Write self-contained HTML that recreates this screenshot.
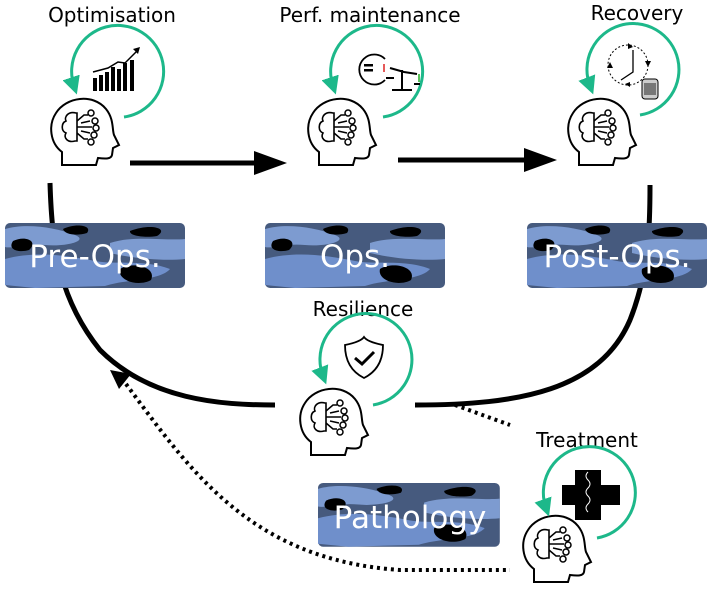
<!DOCTYPE html>
<html><head><meta charset="utf-8"><style>
html,body{margin:0;padding:0;background:#fff;}
svg{display:block;}
text{font-family:"DejaVu Sans","Liberation Sans",sans-serif;}
</style></head><body>
<svg width="715" height="589" viewBox="0 0 715 589" xmlns="http://www.w3.org/2000/svg">
<defs>
<marker id="ga" markerWidth="6" markerHeight="6" refX="3" refY="3" orient="auto" markerUnits="strokeWidth">
<path d="M0,0 L6,3 L0,6 z" fill="#1db88a"/></marker>
<g id="head" fill="none" stroke="#000" stroke-width="2">
<path d="M14,70 L14,57 C2,48 0,30 8,18 C18,2 45,-2 58,14 C66,24 64,34 66,40 L71,50 L65,53 L64,60 C63,64 58,64 50,63 L48,70 Z" fill="#fff"/>
<path d="M28,18 C20,16 16,22 18,26 C13,28 13,36 18,38 C15,43 20,48 27,46 L29,46 L29,18 Z" stroke-width="1.6"/>
<path d="M29,32 L44,32 M29,26 L36,20 L40,20 M29,38 L36,44 L40,44 M33,28 L42,26 M33,36 L42,38" stroke-width="1.5"/>
<circle cx="43" cy="18" r="3" stroke-width="1.5"/><circle cx="47" cy="26" r="3" stroke-width="1.5"/><circle cx="48" cy="33" r="3" stroke-width="1.5"/><circle cx="46" cy="40" r="3" stroke-width="1.5"/><circle cx="43" cy="47" r="3" stroke-width="1.5"/>
</g>
<g id="camo">
<rect width="180" height="65" rx="5" fill="#465a7e"/>
<path d="M0,6 C20,0 50,4 70,12 C85,18 60,24 40,22 C20,20 8,26 0,24Z" fill="#7d9bd0"/>
<path d="M0,36 C30,28 60,32 90,38 C110,42 140,36 165,46 C155,58 120,56 100,63 L30,65 L0,62Z" fill="#6f8fcb"/>
<path d="M105,20 C130,12 160,18 180,16 L180,36 C160,38 130,36 105,30Z" fill="#7d9bd0"/>
<path d="M8,18 C20,12 34,18 24,27 C14,30 2,27 8,18Z" fill="#000"/>
<path d="M58,6 C70,0 88,2 82,10 C72,13 60,12 58,6Z" fill="#000"/>
<path d="M125,8 C145,0 165,5 152,13 C140,15 124,13 125,8Z" fill="#000"/>
<path d="M115,46 C128,38 152,44 146,57 C134,64 112,58 115,46Z" fill="#000"/>
</g>
</defs>

<text x="112" y="22" font-size="20" text-anchor="middle">Optimisation</text>
<text x="370" y="22" font-size="20" text-anchor="middle">Perf. maintenance</text>
<text x="637" y="20" font-size="20" text-anchor="middle">Recovery</text>
<text x="363" y="316" font-size="20" text-anchor="middle">Resilience</text>
<text x="587" y="447" font-size="20" text-anchor="middle">Treatment</text>

<path d="M50,183 C52,250 60,300 100,350 C150,400 220,405 275,405" fill="none" stroke="#000" stroke-width="5"/>
<path d="M110,370 L131,374 L119,389 Z" fill="#000"/>
<path d="M415,405 C520,405 600,390 630,320 C650,270 650,220 650,185" fill="none" stroke="#000" stroke-width="5"/>
<path d="M455,405 L510,425" fill="none" stroke="#000" stroke-width="4" stroke-dasharray="3,4"/>
<path d="M126,384 C190,470 250,560 400,570 L510,570" fill="none" stroke="#000" stroke-width="4" stroke-dasharray="3,4"/>

<line x1="130" y1="163" x2="262" y2="163" stroke="#000" stroke-width="5"/>
<path d="M254,151 L287,163 L254,175 Z" fill="#000"/>
<line x1="398" y1="160" x2="532" y2="160" stroke="#000" stroke-width="5"/>
<path d="M524,148 L557,160 L524,172 Z" fill="#000"/>

<use href="#camo" x="5" y="223"/>
<use href="#camo" x="265" y="223"/>
<use href="#camo" x="527" y="223"/>
<g transform="translate(318,483) scale(1.01,0.98)"><use href="#camo"/></g>
<text x="95" y="267" font-size="31" fill="#fff" text-anchor="middle">Pre-Ops.</text>
<text x="355" y="267" font-size="31" fill="#fff" text-anchor="middle">Ops.</text>
<text x="617" y="267" font-size="31" fill="#fff" text-anchor="middle">Post-Ops.</text>
<text x="410" y="528" font-size="31" fill="#fff" text-anchor="middle">Pathology</text>

<use href="#head" x="48" y="95"/>
<use href="#head" x="305" y="95"/>
<use href="#head" x="565" y="95"/>
<use href="#head" x="297" y="385"/>
<use href="#head" x="520" y="512"/>

<g fill="none" stroke="#1db88a" stroke-width="3" marker-end="url(#ga)">
<path d="M124,117 A46,46 0 1 0 74,86"/>
<path d="M383,117 A46,46 0 1 0 333,86"/>
<path d="M640,115 A46,46 0 1 0 590,86"/>
<path d="M373,405 A46,46 0 1 0 323,376"/>
<path d="M597,538 A46,46 0 1 0 546,508"/>
</g>

<g fill="#000">
<rect x="93" y="78" width="4" height="13"/><rect x="99" y="75" width="4" height="16"/><rect x="105" y="72" width="4" height="19"/><rect x="111" y="67" width="4" height="24"/><rect x="117" y="69" width="4" height="22"/><rect x="123" y="63" width="4" height="28"/><rect x="130" y="60" width="4" height="31"/>
</g>
<path d="M93,72 L108,68 L118,62 L125,63 L138,50" fill="none" stroke="#000" stroke-width="1.5"/>
<path d="M140,47 L133,49 L138,54Z" fill="#000"/>
<path d="M385,59 A15,15 0 1 0 385,80" fill="none" stroke="#000" stroke-width="1.8"/>
<rect x="364" y="64" width="9" height="2.5" fill="#000"/><rect x="364" y="69" width="9" height="2.5" fill="#000"/>
<path d="M390,68 L404,72 L417,74 M402,70 L402,90 M392,90 L412,90 M386,78 L394,78 M414,84 L420,84" stroke="#000" stroke-width="2" fill="none"/>
<path d="M384,64 L384,72" stroke="#d22" stroke-width="1.5"/>
<path d="M419,82 L419,74" stroke="#2a2" stroke-width="1.5"/>
<circle cx="628" cy="65" r="20" fill="none" stroke="#000" stroke-width="1" stroke-dasharray="2,2"/>
<path d="M633,50 L633,72 L621,80" fill="none" stroke="#000" stroke-width="1.3"/>
<path d="M628,43 L633,47 L628,49Z M607,68 L610,62 L613,68Z M630,87 L625,84 L630,82Z M648,67 L645,61 L651,61Z" fill="#000"/>
<rect x="642" y="79" width="16" height="20" rx="3" fill="#ccc" stroke="#000" stroke-width="1"/>
<rect x="644" y="83" width="12" height="12" fill="#777"/>
<path d="M345,345 C355,343 362,340 364,337 C366,340 373,343 383,345 C383,362 376,372 364,378 C352,372 345,362 345,345Z" fill="#fff" stroke="#000" stroke-width="1.8"/>
<path d="M355,358 L362,364 L374,352" fill="none" stroke="#000" stroke-width="3"/>
<path d="M575,470 L601,470 L601,485 L620,485 L620,505 L601,505 L601,520 L575,520 L575,505 L562,505 L562,485 L575,485Z" fill="#000"/>
<path d="M588,472 q-4,4 0,8 q4,4 0,8 q-4,4 0,8 q4,4 0,8 q-4,4 0,8" fill="none" stroke="#fff" stroke-width="1"/>
</svg>
</body></html>
